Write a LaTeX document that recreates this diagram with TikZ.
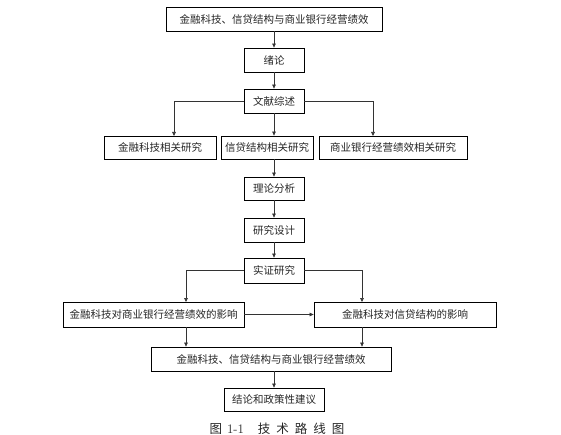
\documentclass[tikz,border=0pt]{standalone}
\usepackage{fontspec}
\newfontfamily\cjk{Noto Sans CJK SC}
\usetikzlibrary{arrows.meta,calc}
\begin{document}
\begin{tikzpicture}[x=1pt,y=-1pt,
  box/.style={draw=black,line width=0.8pt,inner sep=0pt,minimum height=24pt,font=\cjk\fontsize{10.5}{12}\selectfont,text=black!85},
  arr/.style={draw=black!80,line width=0.6pt,-{Triangle[length=4pt,width=3.6pt]}},
  ln/.style={draw=black!80,line width=0.6pt}]
\useasboundingbox (0,0) rectangle (561,435);
\node[box,minimum width=216pt] (top) at (274,19) {金融科技、信贷结构与商业银行经营绩效};
\node[box,minimum width=60pt] (xl) at (274,60) {绪论};
\node[box,minimum width=60pt] (wx) at (274,101) {文献综述};
\node[box,minimum width=112pt,minimum height=23pt] (b1) at (160,147.5) {金融科技相关研究};
\node[box,minimum width=92pt,minimum height=23pt] (b2) at (267,147.5) {信贷结构相关研究};
\node[box,minimum width=148pt,minimum height=23pt] (b3) at (393,147.5) {商业银行经营绩效相关研究};
\node[box,minimum width=60pt,minimum height=23pt] (ll) at (274,188.5) {理论分析};
\node[box,minimum width=60pt] (yj) at (274,230) {研究设计};
\node[box,minimum width=60pt,minimum height=25pt] (sz) at (274,270.5) {实证研究};
\node[box,minimum width=181pt,minimum height=25pt] (L) at (153.5,314.5) {金融科技对商业银行经营绩效的影响};
\node[box,minimum width=182pt,minimum height=25pt] (R) at (405,314.5) {金融科技对信贷结构的影响};
\node[box,minimum width=240pt] (bot) at (271,359) {金融科技、信贷结构与商业银行经营绩效};
\node[box,minimum width=100pt,minimum height=23pt] (last) at (274,399.5) {结论和政策性建议};
\node[font=\cjk\fontsize{12.5}{14}\selectfont,text=black!85,inner sep=0pt] (cap) at (277,429) {图\hspace{5pt}{\rmfamily\fontsize{13}{14}\selectfont 1-1}\hspace{14pt}技\hspace{6pt}术\hspace{6pt}路\hspace{6pt}线\hspace{6pt}图};
\coordinate (b1t) at (174,136);
\coordinate (b3t) at (373,136);
\coordinate (Lt) at (186,302);
\coordinate (Rt) at (362,302);
\draw[arr] (top.south -| xl.north) -- (xl.north);
\draw[arr] (xl) -- (wx);
\draw[arr] (wx.west) -| (b1t);
\draw[arr] (wx.south) -- (wx.south |- b2.north);
\draw[arr] (wx.east) -| (b3t);
\draw[arr] (ll.north |- b2.south) -- (ll.north);
\draw[arr] (ll) -- (yj);
\draw[arr] (yj) -- (sz);
\draw[arr] (sz.west) -| (Lt);
\draw[arr] (sz.east) -| (Rt);
\draw[arr] (L.east) -- (R.west);
\draw[arr] (Lt |- L.south) -- (Lt |- bot.north);
\draw[arr] (Rt |- R.south) -- (Rt |- bot.north);
\draw[arr] (last.north |- bot.south) -- (last.north);
\end{tikzpicture}
\end{document}
